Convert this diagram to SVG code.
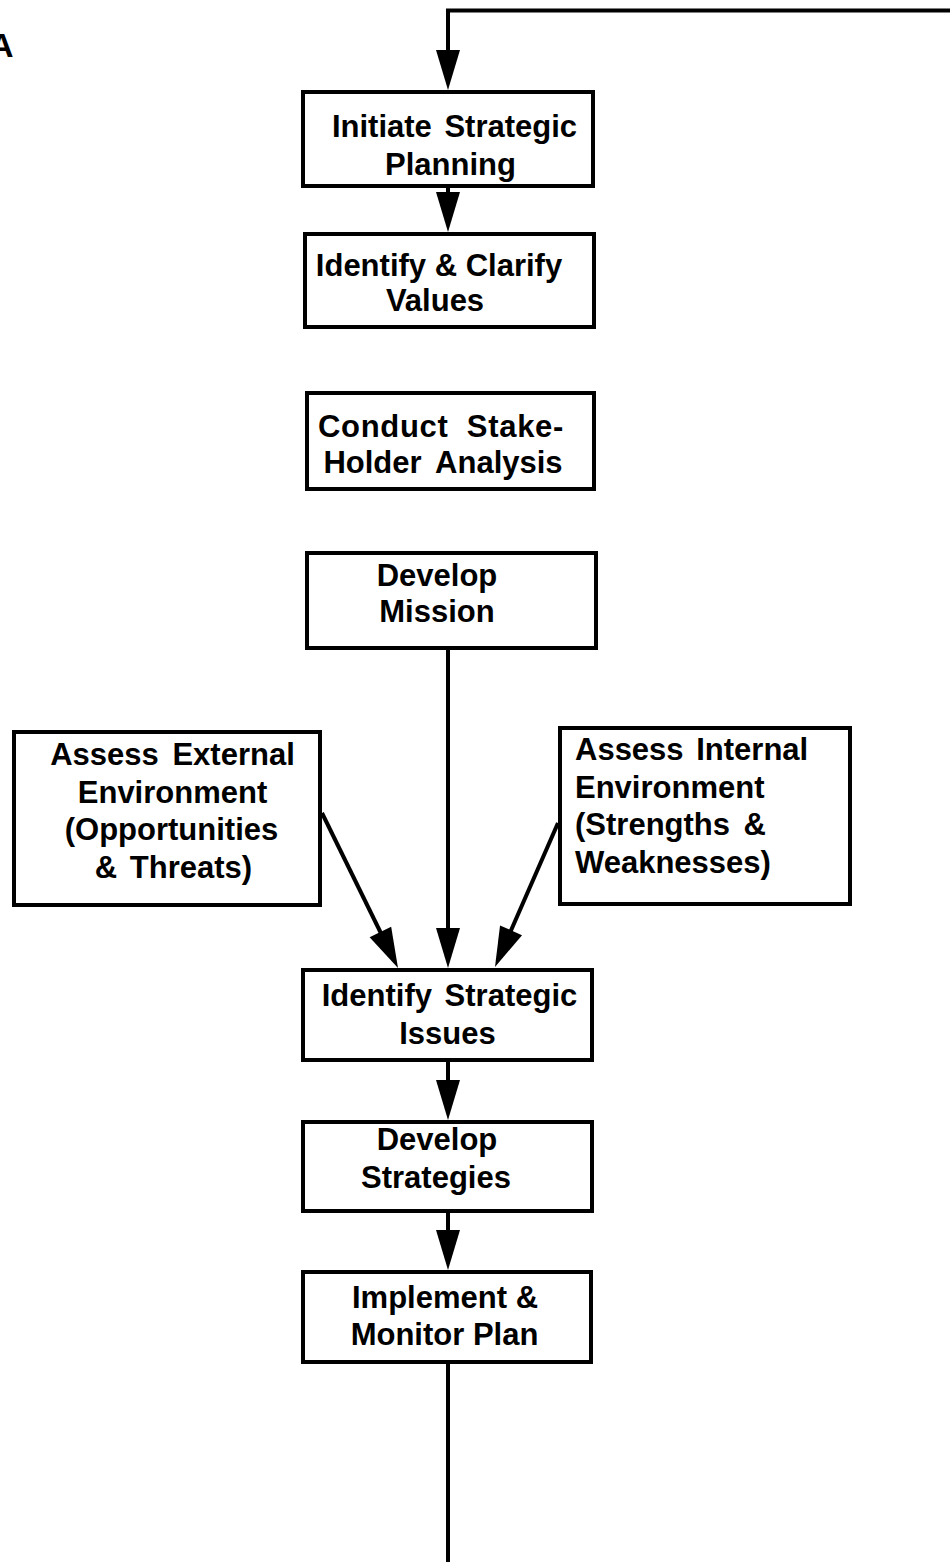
<svg xmlns="http://www.w3.org/2000/svg" width="950" height="1562" viewBox="0 0 950 1562">
<style>
.box{fill:#fff;stroke:#000;stroke-width:4}
.t{font-family:"Liberation Sans",Arial,sans-serif;font-weight:bold;font-size:31px;fill:#000}
.m{text-anchor:middle}
.s{text-anchor:start}
.c{fill:none;stroke:#000;stroke-width:4}
</style>
<defs>
<marker id="ah" markerUnits="userSpaceOnUse" markerWidth="42" markerHeight="26" refX="30" refY="12" orient="auto" overflow="visible">
<path d="M0,0 L40,12 L0,24 Z" fill="#000"/>
</marker>
</defs>
<rect width="950" height="1562" fill="#fff"/>
<text class="t" x="-11" y="57" style="font-size:34px">A</text>
<g id="connectors">
<path class="c" d="M950,10.5 H448 V80" marker-end="url(#ah)"/>
<path class="c" d="M448,186 V222" marker-end="url(#ah)"/>
<path class="c" d="M448,648 V958" marker-end="url(#ah)"/>
<path class="c" d="M322,813 L393.6,959" marker-end="url(#ah)"/>
<path class="c" d="M558,823 L499,957.8" marker-end="url(#ah)"/>
<path class="c" d="M448,1060 V1110" marker-end="url(#ah)"/>
<path class="c" d="M448,1211 V1260" marker-end="url(#ah)"/>
<path class="c" d="M448,1362 V1562"/>
</g>
<g id="n1"><rect class="box" x="303" y="92" width="290" height="94"/>
<text class="t m" x="454.5" y="137" style="word-spacing:4px">Initiate Strategic</text>
<text class="t m" x="450.5" y="175">Planning</text></g>
<g id="n2"><rect class="box" x="305" y="234" width="289" height="93"/>
<text class="t m" x="439" y="276">Identify &amp; Clarify</text>
<text class="t m" x="435" y="311">Values</text></g>
<g id="n3"><rect class="box" x="307" y="393" width="287" height="96"/>
<text class="t m" x="441" y="437" style="word-spacing:9px;letter-spacing:0.7px">Conduct Stake-</text>
<text class="t m" x="443" y="473" style="word-spacing:6px">Holder Analysis</text></g>
<g id="n4"><rect class="box" x="307" y="553" width="289" height="95"/>
<text class="t m" x="437" y="586">Develop</text>
<text class="t m" x="437" y="622">Mission</text></g>
<g id="n5"><rect class="box" x="14" y="732" width="306" height="173"/>
<text class="t m" x="172.5" y="765" style="word-spacing:5px">Assess External</text>
<text class="t m" x="172.5" y="803">Environment</text>
<text class="t m" x="171.5" y="840">(Opportunities</text>
<text class="t m" x="173.5" y="878" style="word-spacing:4px">&amp; Threats)</text></g>
<g id="n6"><rect class="box" x="560" y="728" width="290" height="176"/>
<text class="t s" x="575" y="760" style="word-spacing:4px">Assess Internal</text>
<text class="t s" x="575" y="798">Environment</text>
<text class="t s" x="575" y="835" style="word-spacing:5px">(Strengths &amp;</text>
<text class="t s" x="575" y="873">Weaknesses)</text></g>
<g id="n7"><rect class="box" x="303" y="970" width="289" height="90"/>
<text class="t m" x="449.5" y="1006" style="word-spacing:4px">Identify Strategic</text>
<text class="t m" x="447.5" y="1044">Issues</text></g>
<g id="n8"><rect class="box" x="303" y="1122" width="289" height="89"/>
<text class="t m" x="437" y="1150">Develop</text>
<text class="t m" x="436" y="1188">Strategies</text></g>
<g id="n9"><rect class="box" x="303" y="1272" width="288" height="90"/>
<text class="t m" x="445" y="1308">Implement &amp;</text>
<text class="t m" x="444.5" y="1345">Monitor Plan</text></g>
</svg>
